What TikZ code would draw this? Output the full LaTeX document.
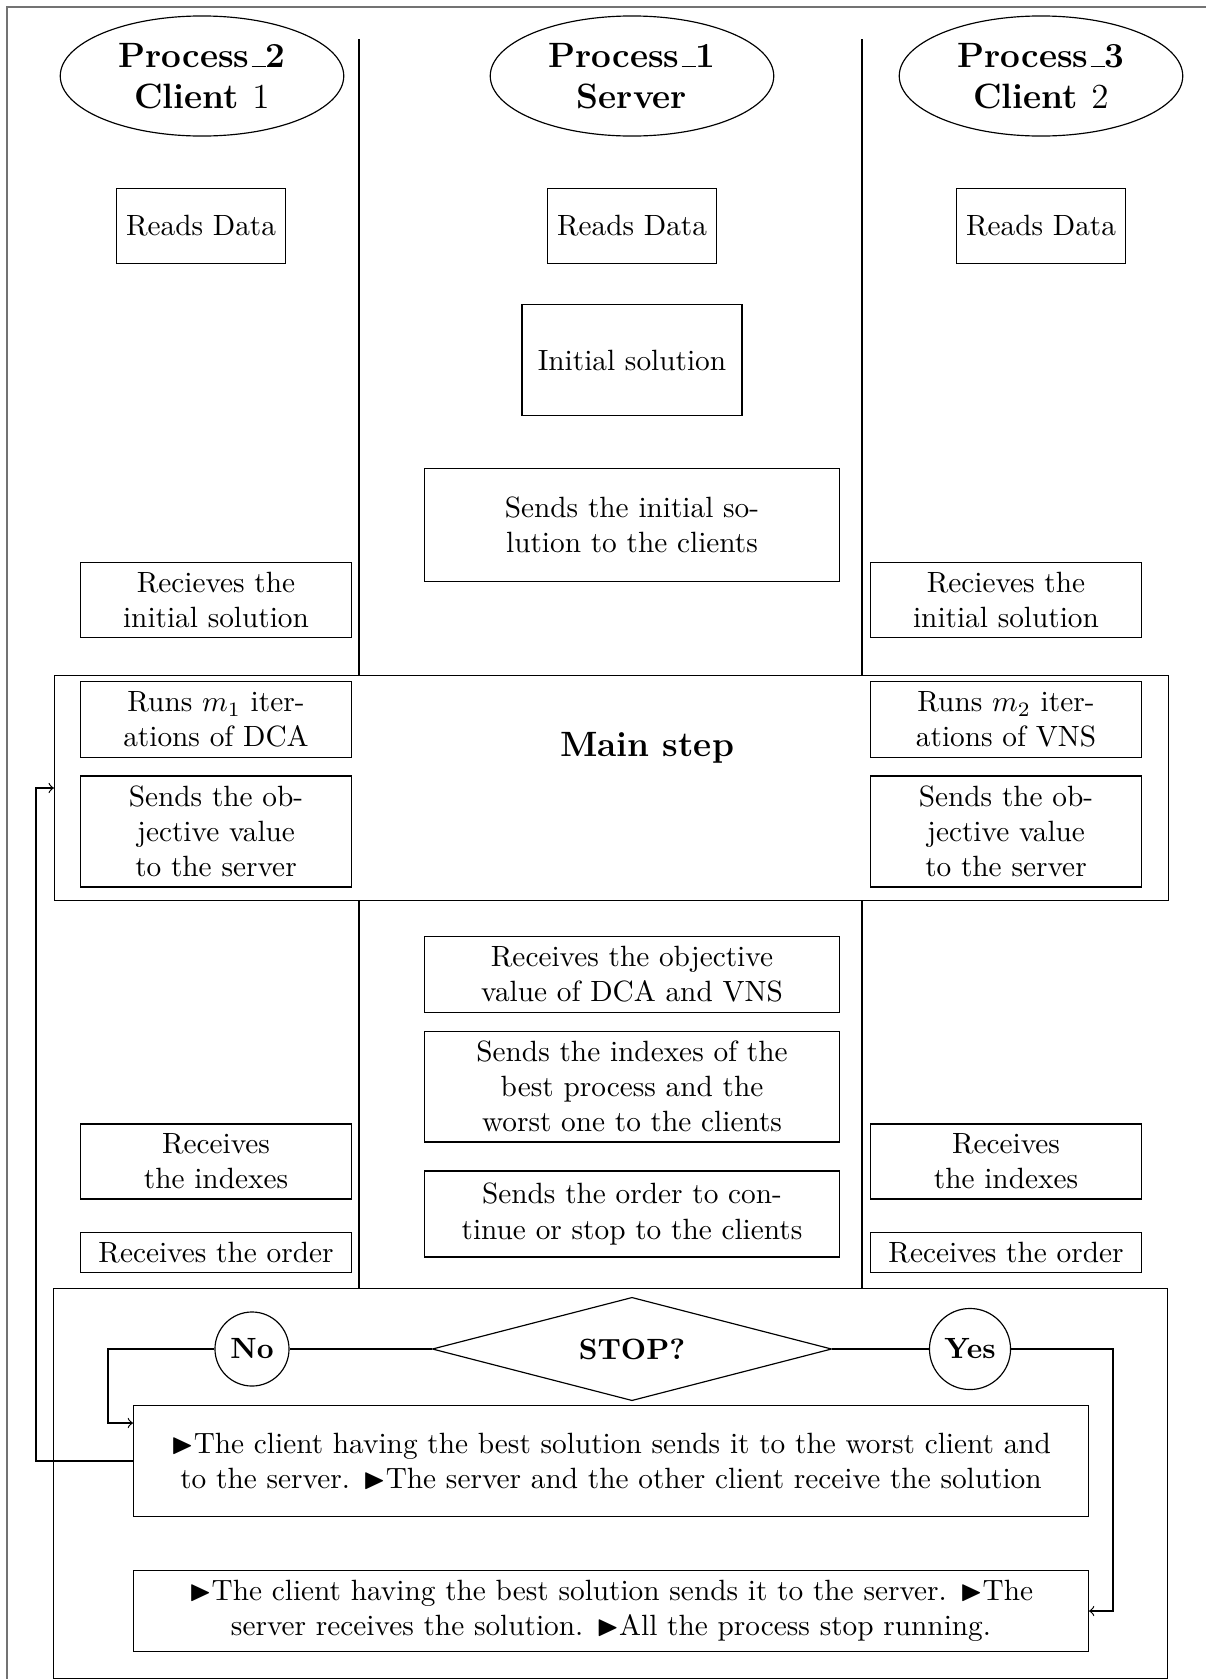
\documentclass[tikz,border=0pt]{standalone}
\usepackage{amssymb}
\usetikzlibrary{shapes.geometric}

\newcommand{\lowbar}{\leavevmode\kern.06em\vbox{\hrule width .4em}}

\begin{document}
\begin{tikzpicture}[x = 0.012cm, y = -0.012cm,
	procname/.style = {ellipse, draw, inner sep = 0pt, minimum width = 3.4cm, minimum height = 1.44cm, align = center, font = \large\bfseries},
	readbox/.style = {rectangle, draw, minimum height = 0.9cm},
	sidebox/.style = {rectangle, draw, align = center, minimum width = 3.25cm},
	midbox/.style = {rectangle, draw, align = center, minimum width = 4.98cm},
	widebox/.style = {rectangle, draw, align = center, minimum width = 11.45cm},
	answer/.style = {circle, draw, font = \bfseries}]
	\useasboundingbox (0, 0) rectangle (1205, 1679);
	\draw [black!55, line width = 0.7pt] (7, 1700) -- (7, 7) -- (1220, 7);

	% the three processes
	\node [procname] (p2) at (202, 76) {Process\lowbar 2\\Client $1$};
	\node [procname] (p1) at (632, 76) {Process\lowbar 1\\Server};
	\node [procname] (p3) at (1041, 76) {Process\lowbar 3\\Client $2$};
	\foreach \x in {359, 862}
		\draw (\x, 39) -- (\x, 676) (\x, 900) -- (\x, 1289);

	\node [readbox] (read2) at (201, 226) {Reads Data};
	\node [readbox] (read1) at (632, 226) {Reads Data};
	\node [readbox] (read3) at (1041, 226) {Reads Data};
	\node [rectangle, draw, minimum width = 2.64cm, minimum height = 1.34cm] (init) at (632, 360) {Initial solution};
	\node [midbox, minimum height = 1.36cm] (sendinit) at (632, 525) {Sends the initial so-\\lution to the clients};
	\node [sidebox] (recv2) at (216, 600) {Recieves the\\initial solution};
	\node [sidebox] (recv3) at (1006, 600) {Recieves the\\initial solution};

	% main step
	\node [rectangle, draw, minimum width = 13.36cm, minimum height = 2.69cm] (mainframe) at (611.5, 788) {};
	\node [font = \large\bfseries] (mainlabel) at (647, 748) {Main step};
	\node [sidebox] (runs2) at (216, 719.5) {Runs $m_1$ iter-\\ations of DCA};
	\node [sidebox] (runs3) at (1006, 719.5) {Runs $m_2$ iter-\\ations of VNS};
	\node [sidebox] (obj2) at (216, 831.5) {Sends the ob-\\jective value\\to the server};
	\node [sidebox] (obj3) at (1006, 831.5) {Sends the ob-\\jective value\\to the server};

	\node [midbox] (recobj) at (632, 974.5) {Receives the objective\\value of DCA and VNS};
	\node [midbox] (sendidx) at (632, 1086.5) {Sends the indexes of the\\best process and the\\worst one to the clients};
	\node [midbox, minimum height = 1.03cm] (sendord) at (632, 1214) {Sends the order to con-\\tinue or stop to the clients};
	\node [sidebox] (recidx2) at (216, 1161.5) {Receives\\the indexes};
	\node [sidebox] (recidx3) at (1006, 1161.5) {Receives\\the indexes};
	\node [sidebox] (record2) at (216, 1252.5) {Receives the order};
	\node [sidebox] (record3) at (1006, 1252.5) {Receives the order};

	% stop test
	\node [rectangle, draw, minimum width = 13.36cm, minimum height = 4.67cm] (stopframe) at (610.5, 1483.5) {};
	\node [diamond, draw, aspect = 3.9, inner sep = 1pt, minimum width = 4.79cm, minimum height = 1.24cm, font = \bfseries] (stop) at (632, 1349) {STOP?};
	\node [answer] (no) at (252, 1349) {No};
	\node [answer] (yes) at (970, 1349) {Yes};
	\node [widebox, minimum height = 1.34cm] (exchange) at (611, 1461) {$\blacktriangleright$The client having the best solution sends it to the worst client and\\to the server. $\blacktriangleright$The server and the other client receive the solution};
	\node [widebox] (finish) at (611, 1611) {$\blacktriangleright$The client having the best solution sends it to the server. $\blacktriangleright$The\\server receives the solution. $\blacktriangleright$All the process stop running.};

	\coordinate (nocorner) at (108, 1349);
	\coordinate (noin) at (108, 1423);
	\coordinate (yescorner) at (1113, 1349);
	\coordinate (loop) at (36, 1461);
	\draw (no) -- (stop);
	\draw (stop) -- (yes);
	\draw [->] (no) -- (nocorner) -- (noin) -- (noin -| exchange.west);
	\draw [->] (yes) -- (yescorner) |- (finish);
	\draw [->] (exchange) -- (loop) |- (mainframe);
\end{tikzpicture}
\end{document}
